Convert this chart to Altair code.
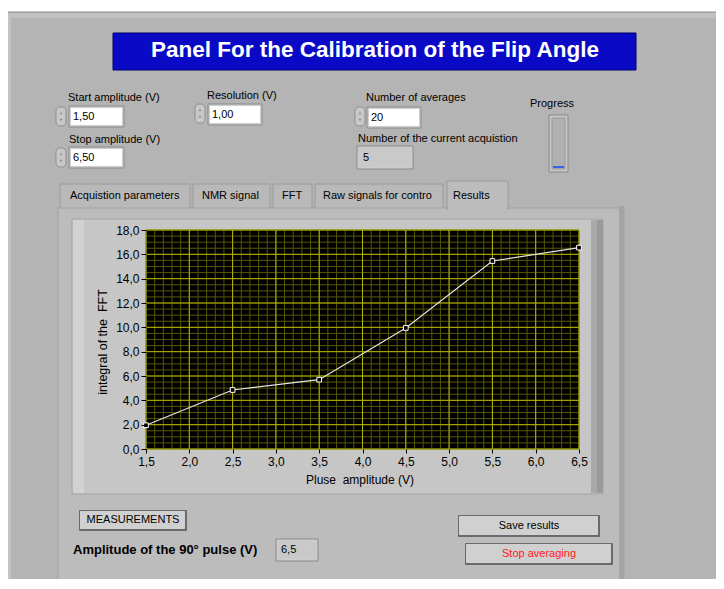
import altair as alt
import pandas as pd

# ---------------- data ----------------
pulse_amplitude = [1.5, 2.5, 3.5, 4.5, 5.5, 6.5]
fft_integral = [1.95, 4.85, 5.70, 9.95, 15.45, 16.55]
x_ticks = [1.5, 2.0, 2.5, 3.0, 3.5, 4.0, 4.5, 5.0, 5.5, 6.0, 6.5]
y_ticks = [0, 2, 4, 6, 8, 10, 12, 14, 16, 18]
x_minor = [round(1.5 + 0.1 * i, 1) for i in range(51)]
y_minor = [0.5 * i for i in range(37)]

# ---------------- layout (page pixels) ----------------
OX, OY = 146, 230      # top-left of the plot area on the page
W, H = 433, 219        # plot area
FONT = "Liberation Sans"


def R(x1, y1, x2, y2, fill, stroke="transparent"):
    return dict(x=x1 - OX, x2=x2 - OX, y=y1 - OY, y2=y2 - OY, fill=fill, stroke=stroke)


def T(t, x, y, c="black"):
    return dict(t=t, x=x - OX, y=y - OY, c=c)


def rect_layer(rows, **kw):
    return alt.Chart(pd.DataFrame(rows)).mark_rect(strokeWidth=1, **kw).encode(
        x=alt.X("x:Q", scale=None, axis=None),
        x2="x2:Q",
        y=alt.Y("y:Q", scale=None, axis=None),
        y2="y2:Q",
        color=alt.Color("fill:N", scale=None, legend=None),
        stroke=alt.Stroke("stroke:N", scale=None, legend=None),
    )


def text_layer(rows, **kw):
    return alt.Chart(pd.DataFrame(rows)).mark_text(baseline="middle", **kw).encode(
        x=alt.X("x:Q", scale=None, axis=None),
        y=alt.Y("y:Q", scale=None, axis=None),
        text="t:N",
        color=alt.Color("c:N", scale=None, legend=None),
    )


PANEL = "#b4b4b4"
BODY = "#bcbcbc"
FRAME = "#c6c6c6"

# background panel, title box, tabs, graph frame
base_rects = [
    R(4, 12, 730, 600, PANEL, "#8e8e8e"),
    R(5, 13, 730, 18, "#c2c2c2"),
    R(5, 13, 11, 600, "#c2c2c2"),
    R(113, 33, 636, 70, "#0a0ac6", "#000070"),
    R(60, 184, 190, 209, "#b9b9b9", "#9a9a9a"),
    R(193, 184, 270, 209, "#b9b9b9", "#9a9a9a"),
    R(273, 184, 312, 209, "#b9b9b9", "#9a9a9a"),
    R(315, 184, 443, 209, "#b9b9b9", "#9a9a9a"),
    R(58, 208, 624, 600, BODY, "#a2a2a2"),
    R(619, 206, 624, 600, "#a4a4a4"),
    R(447, 181, 508, 209, BODY, "#9a9a9a"),
    R(448, 206, 507, 211, BODY),
    R(72, 219, 603, 494, FRAME, "#a4a4a4"),
    R(73, 220, 84, 493, "#d2d2d2"),
    R(591, 220, 603, 493, "#a9a9a9"),
    R(597, 220, 603, 493, "#9a9a9a"),
]

# widget frames and fields
widget_rects = [
    R(69, 106, 124, 127, "#cdcdcd", "#8a8a8a"), R(71, 108, 122, 125, "white"),
    R(69, 147, 124, 168, "#cdcdcd", "#8a8a8a"), R(71, 149, 122, 166, "white"),
    R(208, 104, 262, 125, "#cdcdcd", "#8a8a8a"), R(210, 106, 260, 123, "white"),
    R(367, 107, 421, 128, "#cdcdcd", "#8a8a8a"), R(369, 109, 419, 126, "white"),
    R(357, 146, 413, 169, "#cdcdcd", "#8a8a8a"), R(359, 148, 411, 167, "#c9c9c9"),
    R(276, 539, 318, 561, "#cdcdcd", "#8a8a8a"), R(278, 541, 316, 559, "#c9c9c9"),
    R(549, 115, 568, 172, "#c6c6c6", "#8a8a8a"), R(552, 118, 565, 169, "#b0b0b0", "#9a9a9a"),
    R(553, 166, 564, 168, "#3a5ef0"),
]

spinners = [
    R(56, 107, 66, 126, "#c8c8c8", "#8e8e8e"),
    R(56, 148, 66, 167, "#c8c8c8", "#8e8e8e"),
    R(195, 104, 205, 123, "#c8c8c8", "#8e8e8e"),
    R(355, 107, 365, 126, "#c8c8c8", "#8e8e8e"),
]
spin_up = [dict(x=(s["x"] + s["x2"]) / 2, y=s["y"] + 6) for s in spinners]
spin_dn = [dict(x=(s["x"] + s["x2"]) / 2, y=s["y2"] - 6) for s in spinners]

buttons = [
    R(79, 510, 187, 531, "#6a6a6a"), R(80, 511, 185, 529, "#d0d0d0"),
    R(458, 515, 600, 537, "#6a6a6a"), R(459, 516, 598, 535, "#d0d0d0"),
    R(465, 543, 613, 565, "#6a6a6a"), R(466, 544, 611, 563, "#d0d0d0"),
]

labels_left = [
    T("Start amplitude (V)", 68, 98),
    T("Stop amplitude (V)", 69, 140),
    T("Resolution (V)", 207, 96),
    T("Number of averages", 366, 98),
    T("Number of the current acquistion", 358, 139),
    T("Progress", 530, 104),
    T("1,50", 73, 117), T("6,50", 73, 158), T("1,00", 212, 115),
    T("20", 371, 118), T("5", 363, 158), T("6,5", 281, 550),
]
tab_labels = [
    T("Acquistion parameters", 70, 196), T("NMR signal", 202, 196),
    T("FFT", 282, 196), T("Raw signals for contro", 323, 196),
    T("Results", 453, 196),
]
labels_center = [
    T("MEASUREMENTS", 133, 520),
    T("Save results", 529, 526),
    T("Stop averaging", 539, 554, "#ff2020"),
]


def pt_layer(rows, shape):
    return alt.Chart(pd.DataFrame(rows)).mark_point(
        shape=shape, filled=True, size=9, color="#7a7a7a"
    ).encode(x=alt.X("x:Q", scale=None, axis=None), y=alt.Y("y:Q", scale=None, axis=None))


deco = alt.layer(
    rect_layer(base_rects),
    rect_layer(widget_rects),
    rect_layer(spinners, cornerRadius=4),
    pt_layer(spin_up, "triangle-up"),
    pt_layer(spin_dn, "triangle-down"),
    rect_layer(buttons, cornerRadius=1),
    text_layer(labels_left, align="left", font=FONT, fontSize=11),
    text_layer(tab_labels, align="left", font=FONT, fontSize=11, limit=116, ellipsis=""),
    text_layer(labels_center, align="center", font=FONT, fontSize=11),
    text_layer([T("Panel For the Calibration of the Flip Angle", 375, 50, "white")],
               align="center", font=FONT, fontSize=22.5, fontWeight="bold"),
    text_layer([T("Amplitude of the 90° pulse (V)", 73, 550)], align="left", font=FONT,
               fontSize=13, fontWeight="bold"),
    text_layer([T("Pluse\u00a0 amplitude (V)", 360, 480)], align="center", font=FONT, fontSize=12),
    text_layer([T("integral of the\u00a0 FFT", 103, 342)], align="center", font=FONT, fontSize=12.5,
               angle=270),
)

# ---------------- plot ----------------
xs = alt.Scale(domain=[1.5, 6.5], nice=False, zero=False)
ys = alt.Scale(domain=[0, 18], nice=False, zero=True)
lbl = "replace(format(datum.value, '.1f'), '.', ',')"
x_axis = alt.Axis(values=x_ticks, labelExpr=lbl, title=None, grid=False, domain=False,
                  tickSize=4, tickColor="black", labelColor="black", labelFont=FONT,
                  labelFontSize=12, labelPadding=3, labelOverlap=False, labelFlush=False,
                  zindex=1)
y_axis = alt.Axis(values=y_ticks, labelExpr=lbl, title=None, grid=False, domain=False,
                  tickSize=5, tickColor="black", labelColor="black", labelFont=FONT,
                  labelFontSize=12, labelPadding=2, labelOverlap=False, labelFlush=False,
                  zindex=1)


def PX(field):
    return alt.X(field, scale=xs, axis=x_axis, title=None)


def PY(field):
    return alt.Y(field, scale=ys, axis=y_axis, title=None)


frame_df = pd.DataFrame({"x1": [x_ticks[0]], "x2": [x_ticks[-1]], "y1": [y_ticks[0]], "y2": [y_ticks[-1]]})
plot_bg = alt.Chart(frame_df).mark_rect(color="black").encode(
    x=PX("x1:Q"), x2="x2:Q", y=PY("y1:Q"), y2="y2:Q",
)

gx_minor = alt.Chart(pd.DataFrame({"g": x_minor})).mark_rule(color="#565600", strokeWidth=1).encode(
    x=PX("g:Q"))
gy_minor = alt.Chart(pd.DataFrame({"g": y_minor})).mark_rule(color="#565600", strokeWidth=1).encode(
    y=PY("g:Q"))
gx_major = alt.Chart(pd.DataFrame({"g": x_ticks})).mark_rule(color="#b4b400", strokeWidth=1).encode(
    x=PX("g:Q"))
gy_major = alt.Chart(pd.DataFrame({"g": y_ticks})).mark_rule(color="#b4b400", strokeWidth=1).encode(
    y=PY("g:Q"))

df = pd.DataFrame({"amp": pulse_amplitude, "val": fft_integral})
line = alt.Chart(df).mark_line(color="#e4e4e4", strokeWidth=1.2).encode(
    x=PX("amp:Q"), y=PY("val:Q"))
pts = alt.Chart(df).mark_point(shape="square", size=22, filled=True, fill="black",
                               stroke="white", strokeWidth=1, opacity=1).encode(
    x=PX("amp:Q"), y=PY("val:Q"))

plot = alt.layer(plot_bg, gx_minor, gy_minor, gx_major, gy_major, line, pts)

chart = alt.layer(deco, plot).resolve_scale(x="independent", y="independent").properties(
    width=W, height=H,
    autosize=alt.AutoSizeParams(type="none"),
    padding={"left": OX - 8, "top": OY - 8, "right": 716 - (OX + W), "bottom": 579 - (OY + H)},
).configure(background="white").configure_view(strokeWidth=0)

chart.save("out.html", embed_options={"renderer": "svg", "actions": False})
